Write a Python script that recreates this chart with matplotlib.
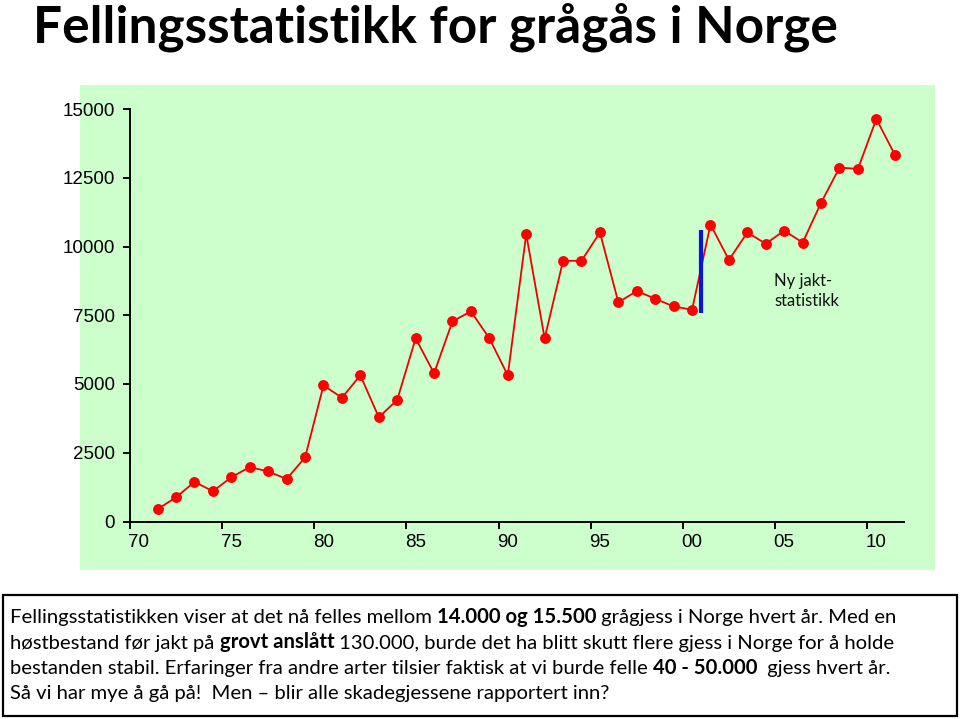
import matplotlib.pyplot as plt
from matplotlib.patches import Rectangle
from matplotlib.transforms import ScaledTranslation

# felte grågjess per år
years = list(range(1971, 2012))
killed = [450, 880, 1440, 1100, 1610, 1980, 1820, 1545, 2330, 4950,
          4500, 5315, 3790, 4420, 6660, 5390, 7280, 7640, 6660, 5315,
          10450, 6660, 9480, 9480, 10510, 7970, 8380, 8100, 7820, 7700,
          10800, 9510, 10510, 10100, 10580, 10140, 11590, 12870, 12820, 14640,
          13340]

xtick_years = [1970, 1975, 1980, 1985, 1990, 1995, 2000, 2005, 2010]
xtick_labels = ['70', '75', '80', '85', '90', '95', '00', '05', '10']
yticks = [0, 2500, 5000, 7500, 10000, 12500, 15000]

new_stats_year = 2001
new_stats_range = (7590, 10600)

title = 'Fellingsstatistikk for grågås i Norge'
# (tekst, fet) per linje
lines = [
    [('Fellingsstatistikken viser at det nå felles mellom ', False), ('14.000 og 15.500', True),
     (' grågjess i Norge hvert år. Med en', False)],
    [('høstbestand før jakt på ', False), ('grovt anslått', True),
     (' 130.000, burde det ha blitt skutt flere gjess i Norge for å holde', False)],
    [('bestanden stabil. Erfaringer fra andre arter tilsier faktisk at vi burde felle ', False),
     ('40 - 50.000', True), ('  gjess hvert år.', False)],
    [('Så vi har mye å gå på!  Men – blir alle skadegjessene rapportert inn?', False)],
]

W, H = 960, 719
fig = plt.figure(figsize=(W / 100, H / 100), dpi=100)

def fx(px):
    return px / W

def fy(py):
    return 1 - py / H

# grønn bakgrunn
fig.patches.append(Rectangle((fx(80), fy(570)), fx(935) - fx(80), fy(85) - fy(570),
                             transform=fig.transFigure, facecolor='#ccffcc',
                             edgecolor='none', zorder=0))

ax = fig.add_axes([fx(130), fy(521.5), fx(904) - fx(130), fy(109) - fy(521.5)], zorder=2)
ax.patch.set_alpha(0)

# punktene ligger midt i hvert år
xs = [y + 0.5 for y in years]
ax.plot(xs, killed, color='#ee0000', lw=1.3, marker='o', markersize=6.8,
        markerfacecolor='#ff0000', markeredgecolor='#ff0000', clip_on=False, zorder=3)
ax.vlines(new_stats_year, new_stats_range[0], new_stats_range[1], color='#0a14e0', lw=3, zorder=4)
ax.text(2004.95, 8380, 'Ny jakt-\nstatistikk', fontsize=12, family='Lato',
        va='center', ha='left', linespacing=1.35, color='#111111')

ax.set_xlim(1970, 2012)
ax.set_ylim(0, 15000)
ax.set_xticks(xtick_years)
ax.set_xticklabels(xtick_labels)
ax.set_yticks(yticks)
ax.set_yticklabels([str(v) for v in yticks])
for s in ['top', 'right']:
    ax.spines[s].set_visible(False)
for s in ['left', 'bottom']:
    ax.spines[s].set_linewidth(1.4)
ax.tick_params(direction='out', length=5, width=1.4, labelsize=13.5)
ax.tick_params(axis='x', pad=4)
ax.tick_params(axis='y', pad=6)
# årstallene står litt til høyre for tikkene
shift = ScaledTranslation(9 / 100, 0, fig.dpi_scale_trans)
for lab in ax.get_xticklabels():
    lab.set_transform(lab.get_transform() + shift)
for lab in ax.get_xticklabels() + ax.get_yticklabels():
    lab.set_family('Liberation Sans')

fig.text(fx(33), fy(27), title, fontsize=37, fontweight='bold', family='Lato',
         va='center', ha='left')

# tekstboks
fig.patches.append(Rectangle((fx(3), fy(716)), fx(957) - fx(3), fy(595) - fy(716),
                             transform=fig.transFigure, facecolor='white',
                             edgecolor='black', lw=1.6, zorder=0))

r = fig.canvas.get_renderer()
line_y = [616, 641.5, 667, 692.5]
for ly, parts in zip(line_y, lines):
    x0 = 10
    for txt, bold in parts:
        t = fig.text(fx(x0), fy(ly + 7), txt, fontsize=14.6, family='Lato',
                     fontweight='bold' if bold else 'normal', va='baseline', ha='left')
        x0 = t.get_window_extent(r).x1

fig.savefig('out.png', dpi=100)
